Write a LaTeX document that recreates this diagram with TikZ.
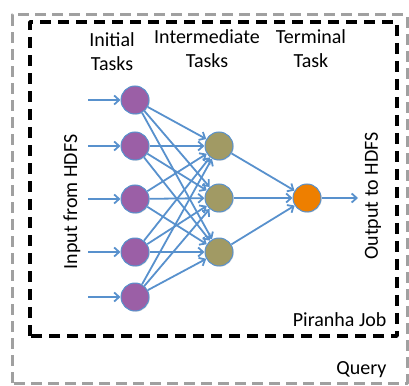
\documentclass[tikz,border=0pt]{standalone}
\usepackage{fontspec}
\setmainfont{Carlito}
\usepackage{tikz}
\usetikzlibrary{arrows.meta}
\usetikzlibrary{shadows}
\definecolor{wwqqtt}{RGB}{155,95,166}
\definecolor{ttttqq}{RGB}{161,154,100}
\definecolor{ffttqq}{RGB}{238,127,0}
\definecolor{qqttcc}{RGB}{88,145,205}
\definecolor{uuuuuu}{RGB}{160,160,160}
\tikzset{every node/.style={font=\fontsize{20}{24}\selectfont},
  task/.style={circle,draw=qqttcc,line width=1pt,minimum size=28pt,inner sep=0pt,
    drop shadow={opacity=0.25,shadow xshift=0.8pt,shadow yshift=-0.8pt}},
  flow/.style={-{Straight Barb[length=5pt,width=9pt]},line width=1.8pt,color=qqttcc}}

\begin{document}
\begin{tikzpicture}[line join=round,x=1pt,y=1pt]
                    \useasboundingbox (0,0) rectangle (409,385);
                    % query and job frames
                    \draw [dash pattern=on 11pt off 6pt,line width=3pt,color=uuuuuu] (12,2) rectangle (407,370);
                    \draw [dash pattern=on 11pt off 7pt,line width=3.5pt] (30,49) rectangle (397,363);

                    % tasks
                    \node [task,fill=wwqqtt] (i1) at (135,285) {};
                    \node [task,fill=wwqqtt] (i2) at (135,239) {};
                    \node [task,fill=wwqqtt] (i3) at (135,186) {};
                    \node [task,fill=wwqqtt] (i4) at (135,133) {};
                    \node [task,fill=wwqqtt] (i5) at (135,88) {};
                    \node [task,fill=ttttqq] (m1) at (219,239) {};
                    \node [task,fill=ttttqq] (m2) at (219,187) {};
                    \node [task,fill=ttttqq] (m3) at (219,133) {};
                    \node [task,fill=ffttqq] (t) at (307,187) {};

                    % input from HDFS
                    \foreach \k in {1,...,5} {
                        \coordinate (in\k) at (88,0 |- i\k);
                        \draw [flow] (in\k) -- (i\k);
                    }
                    % initial -> intermediate -> terminal
                    \foreach \a in {1,...,5}
                        \foreach \b in {1,2,3}
                            \draw [flow] (i\a) -- (m\b);
                    \foreach \b in {1,2,3}
                        \draw [flow] (m\b) -- (t);
                    \coordinate (out) at (358,187);
                    \draw [flow] (t) -- (out);

                    \node [align=center] (initlabel) at (112,333) {Initial\\Tasks};
                    \node [align=center] (midlabel) at (207,336) {Intermediate\\Tasks};
                    \node [align=center] (termlabel) at (311,336) {Terminal\\Task};
                    \node [rotate=90] (inlabel) at (72,183) {Input from HDFS};
                    \node [rotate=90] (outlabel) at (373,189) {Output to HDFS};
                    \node [anchor=east] (joblabel) at (390,65) {Piranha Job};
                    \node [anchor=east] (querylabel) at (390,15) {Query};
                    \end{tikzpicture}
\end{document}
